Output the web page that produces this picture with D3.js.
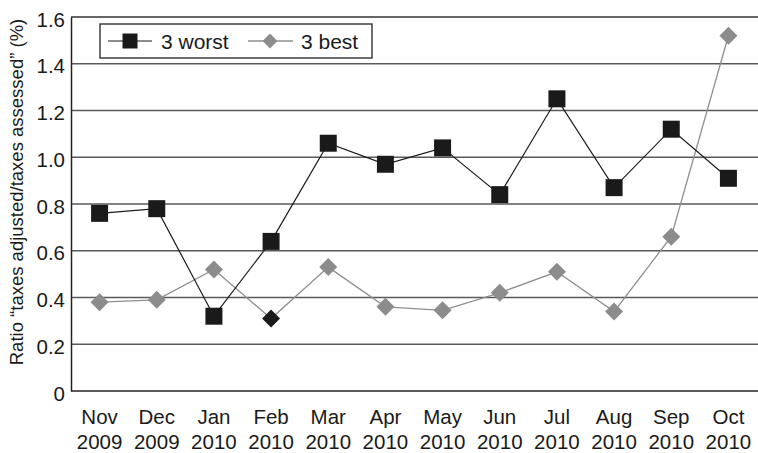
<!DOCTYPE html>
<html>
<head>
<meta charset="utf-8">
<script src="https://cdn.jsdelivr.net/npm/d3@7/dist/d3.min.js"></script>
<style>
  body { margin: 0; background: #fff; }
  text { font-family: "Liberation Sans", Arial, Helvetica, sans-serif; fill: #1a1a1a; }
</style>
</head>
<body>
<div id="chart"></div>
<script>
// data
const months = ["Nov", "Dec", "Jan", "Feb", "Mar", "Apr", "May", "Jun", "Jul", "Aug", "Sep", "Oct"];
const years  = ["2009", "2009", "2010", "2010", "2010", "2010", "2010", "2010", "2010", "2010", "2010", "2010"];
const worst3 = [0.76, 0.78, 0.32, 0.64, 1.06, 0.97, 1.04, 0.84, 1.25, 0.87, 1.12, 0.91];
const best3  = [0.38, 0.39, 0.52, 0.31, 0.53, 0.36, 0.345, 0.42, 0.51, 0.34, 0.66, 1.52];
const yTicks = [0, 0.2, 0.4, 0.6, 0.8, 1.0, 1.2, 1.4, 1.6];

const width = 758, height = 453;
const margin = {top: 17, right: 1, bottom: 62, left: 71};

let svg = d3.select("#chart")
            .append("svg")
            .attr("width", width)
            .attr("height", height);

//scales
let x = d3.scaleBand()
          .domain(months.map((m, i) => i))
          .range([margin.left, width - margin.right])
          .padding(0);
let y = d3.scaleLinear()
          .domain([0, 1.6])
          .range([height - margin.bottom, margin.top]);
const cx = i => x(i) + x.bandwidth() / 2;

//gridlines
svg.append("g")
   .selectAll("line")
   .data(yTicks.filter(d => d > 0))
   .enter()
   .append("line")
   .attr("x1", margin.left)
   .attr("x2", width)
   .attr("y1", d => y(d))
   .attr("y2", d => y(d))
   .style("stroke", d => d === 1.6 ? "#333" : "#5a5a5a")
   .style("stroke-width", 1.3);

//y axis
let yAxis = svg.append("g")
               .attr("transform", `translate(${margin.left},0)`)
               .call(d3.axisLeft(y).tickValues(yTicks).tickSize(0).tickPadding(6)
                       .tickFormat(d => d === 0 ? "0" : d3.format(".1f")(d)));
yAxis.select(".domain").style("stroke", "#222").style("stroke-width", 1.5);
yAxis.selectAll("text").style("font-size", "20.5px").attr("dy", "0.45em");

//x axis (bottom line + two line labels)
svg.append("line")
   .attr("x1", margin.left).attr("x2", width)
   .attr("y1", y(0)).attr("y2", y(0))
   .style("stroke", "#222").style("stroke-width", 1.5);
let xl = svg.append("g")
            .selectAll("text")
            .data(months)
            .enter()
            .append("text")
            .attr("x", (d, i) => cx(i))
            .attr("y", y(0) + 33)
            .style("text-anchor", "middle")
            .style("font-size", "20.5px");
xl.append("tspan").attr("x", (d, i) => cx(i)).text(d => d);
xl.append("tspan").attr("x", (d, i) => cx(i)).attr("dy", 25).text((d, i) => years[i]);

//y axis title
svg.append("text")
   .attr("transform", "translate(23,192) rotate(-90)")
   .style("text-anchor", "middle")
   .style("font-size", "18.5px")
   .text("Ratio \u201Ctaxes adjusted/taxes assessed\u201D (%)");

const line = d3.line().x((d, i) => cx(i)).y(d => y(d));
const sq = d3.symbol().type(d3.symbolSquare);

// 3 best (grey diamonds)
svg.append("path")
   .datum(best3)
   .attr("d", line)
   .style("fill", "none")
   .style("stroke", "#8f8f8f")
   .style("stroke-width", 1.3);

// 3 worst (black squares)
svg.append("path")
   .datum(worst3)
   .attr("d", line)
   .style("fill", "none")
   .style("stroke", "#1a1a1a")
   .style("stroke-width", 1.2);

svg.append("g")
   .selectAll("path")
   .data(best3)
   .enter()
   .append("path")
   .attr("d", sq.size(162))
   .attr("transform", (d, i) => `translate(${cx(i)},${y(d)}) rotate(45)`)
   .style("fill", (d, i) => i === 3 ? "#1a1a1a" : "#8c8c8c");

svg.append("g")
   .selectAll("path")
   .data(worst3)
   .enter()
   .append("path")
   .attr("d", sq.size(289))
   .attr("transform", (d, i) => `translate(${cx(i)},${y(d)})`)
   .style("fill", "#1a1a1a");

//legend
let legend = svg.append("g");
legend.append("rect")
      .attr("x", 100).attr("y", 24)
      .attr("width", 272).attr("height", 34)
      .style("fill", "#fff")
      .style("stroke", "#222")
      .style("stroke-width", 1.3);
legend.append("line")
      .attr("x1", 108).attr("x2", 152).attr("y1", 41).attr("y2", 41)
      .style("stroke", "#1a1a1a").style("stroke-width", 1.2);
legend.append("path")
      .attr("d", sq.size(225))
      .attr("transform", "translate(130,41)")
      .style("fill", "#1a1a1a");
legend.append("text")
      .attr("x", 161).attr("y", 41).attr("dy", "0.36em")
      .style("font-size", "21px")
      .text("3 worst");
legend.append("line")
      .attr("x1", 248).attr("x2", 293).attr("y1", 41).attr("y2", 41)
      .style("stroke", "#8f8f8f").style("stroke-width", 1.3);
legend.append("path")
      .attr("d", sq.size(110))
      .attr("transform", "translate(270,41) rotate(45)")
      .style("fill", "#8c8c8c");
legend.append("text")
      .attr("x", 301).attr("y", 41).attr("dy", "0.36em")
      .style("font-size", "21px")
      .text("3 best");
</script>
</body>
</html>
